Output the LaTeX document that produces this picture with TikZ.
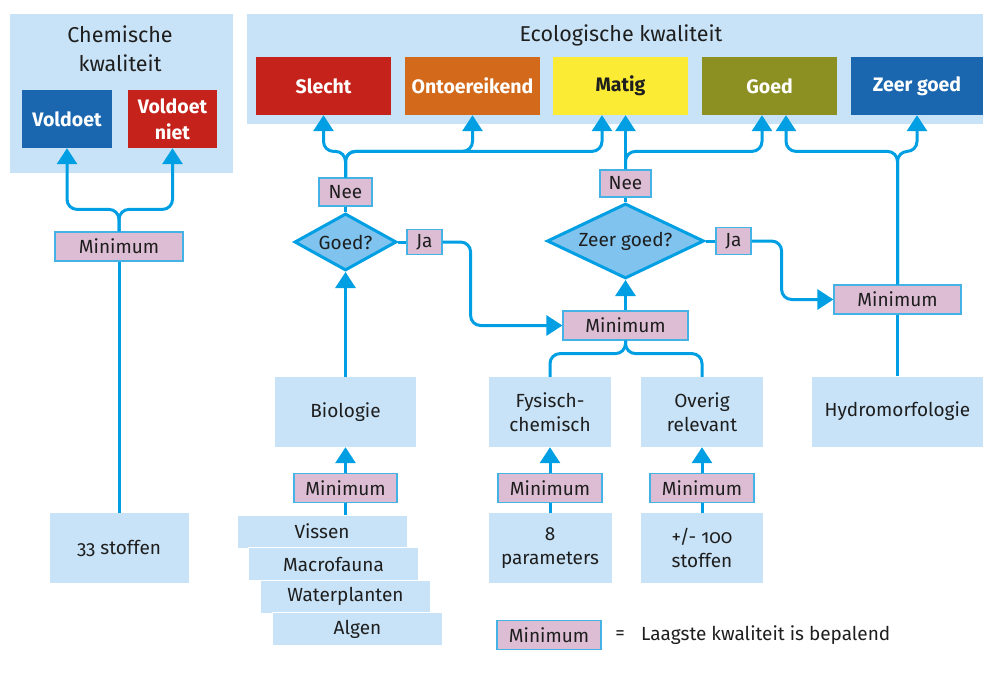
\documentclass[tikz,border=0pt]{standalone}
\usepackage{fontspec}
\setmainfont{Fira Sans}[Numbers=OldStyle]
\usepackage{tikz}
\usetikzlibrary{arrows.meta,shapes.geometric,positioning}

\definecolor{vlakblauw}{HTML}{C8E3F7}
\definecolor{lijnblauw}{HTML}{009FE3}
\definecolor{ruitblauw}{HTML}{7FC3EE}
\definecolor{minroze}{HTML}{DCBDD3}
\definecolor{minrand}{HTML}{45B2E6}
\definecolor{rood}{HTML}{C4221A}
\definecolor{oranje}{HTML}{D2691B}
\definecolor{geel}{HTML}{FCEB34}
\definecolor{olijf}{HTML}{8C9022}
\definecolor{donkerblauw}{HTML}{1A67B0}
\definecolor{tekst}{HTML}{1E1E1E}

\begin{document}
\begin{tikzpicture}[x=1pt,y=-1pt,
    every node/.style={text=tekst, inner sep=0pt, font=\fontsize{19}{24}\selectfont},
    vlak/.style={fill=vlakblauw, align=center, minimum height=70},
    kop/.style={font=\fontsize{21.5}{29}\selectfont, align=center},
    klasse/.style={minimum width=135, minimum height=58, align=center, text=white,
                   font=\bfseries\fontsize{19.5}{26}\selectfont},
    minbox/.style={fill=minroze, draw=minrand, line width=1.2pt, minimum width=104, minimum height=29},
    vraag/.style={diamond, fill=ruitblauw, draw=lijnblauw, line width=3pt},
    soort/.style={fill=vlakblauw, draw=white, line width=1pt, minimum width=170, minimum height=33},
    lijn/.style={color=lijnblauw, line width=3pt, rounded corners=10pt},
    pijl/.style={-{Triangle[width=20pt,length=16pt]}}]

  \useasboundingbox (0,0) rectangle (983,674);

  \node[vlak, minimum width=223, minimum height=159] at (121.5,93.5) (chem) {};
  \node[vlak, minimum width=736, minimum height=110] at (615,69)    (eco)  {};
  \node[kop] at (120,48.6)            (chemkop) {Chemische\\kwaliteit};
  \node[kop, anchor=base] at (621,42) (ecokop)  {Ecologische kwaliteit};

  \node[klasse, fill=donkerblauw, minimum width=90] at (67,119)    (voldoet) {Voldoet};
  \node[klasse, fill=rood, minimum width=89]        at (172.5,119) (niet)    {Voldoet\\niet};

  \node[klasse, fill=rood]                          at (323.5,86) (slecht) {Slecht};
  \node[klasse, fill=oranje]                        at (472.5,86) (ontoer) {Ontoereikend};
  \node[klasse, fill=geel, text=tekst]              at (620.5,86) (matig)  {Matig};
  \node[klasse, fill=olijf]                         at (769.5,86) (goed)   {Goed};
  \node[klasse, fill=donkerblauw, minimum width=132] at (917,86)  (zeer)   {Zeer goed};

  \node[minbox, minimum width=128] at (119,246.5)   (minC) {Minimum};
  \node[vlak, minimum width=139]   at (119,548)     (stof33) {33 stoffen};

  \node[minbox, minimum width=53, minimum height=28] at (345.5,192)   (neeL) {Nee};
  \node[vraag, aspect=1.75, minimum width=102, minimum height=57] at (345.5,242) (goedq) {Goed?};
  \node[minbox, minimum width=35, minimum height=25] at (424.5,242)   (jaL) {Ja};
  \node[vlak, minimum width=141]                     at (345.5,412)   (bio) {Biologie};
  \node[minbox, minimum width=103]                   at (345.5,488)   (minB) {Minimum};
  \node[soort] at (322,531.5)   (vissen) {Vissen};
  \node[soort] at (333.5,564)   (macro)  {Macrofauna};
  \node[soort] at (345.5,596.5) (water)  {Waterplanten};
  \node[soort] at (357.5,629)   (algen)  {Algen};

  \node[minbox, minimum width=51, minimum height=27] at (625.5,183.5) (neeR) {Nee};
  \node[vraag, aspect=2.05, minimum width=157, minimum height=75] at (625.5,241) (zgq) {Zeer goed?};
  \node[minbox, minimum width=35, minimum height=27] at (733.5,241)   (jaR) {Ja};
  \node[minbox, minimum width=125]                   at (625.5,325.5) (minM) {Minimum};
  \node[vlak, minimum width=122] at (550,412) (fys)  {Fysisch-\\chemisch};
  \node[vlak, minimum width=122] at (702,412) (over) {Overig\\relevant};
  \node[minbox] at (550,488) (minF) {Minimum};
  \node[minbox] at (702,488) (minO) {Minimum};
  \node[vlak, minimum width=123] at (550,548) (param) {8\\parameters};
  \node[vlak, minimum width=122] at (702,548) (stof)  {+/- 100\\stoffen};

  \node[minbox, minimum width=127] at (897.5,299.5) (minR)  {Minimum};
  \node[vlak, minimum width=171]   at (897.5,411.5) (hydro) {Hydromorfologie};

  \node[minbox] at (549,635)            (minLeg) {Minimum};
  \node at (620,635)                    (is)     {=};
  \node[anchor=west] at (641,635)       (uitleg) {Laagste kwaliteit is bepalend};

  \draw[lijn,pijl] (minC.north) -- ++(0,-22) -| (voldoet.south);
  \draw[lijn,pijl] (minC.north) -- ++(0,-22) -| (niet.south);
  \path[lijn] (stof33) edge (minC);

  \draw[lijn] (minB.south) -- (minB.south |- vissen.north);
  \path[lijn,pijl] (minB) edge (bio)
                   (bio)  edge (goedq);
  \path[lijn] (goedq) edge (neeL)
              (goedq) edge (jaL);
  \draw[lijn,pijl] (neeL.north) -- ++(0,-26) -| (slecht.south);
  \draw[lijn,pijl] (neeL.north) -- ++(0,-26) -| (ontoer.south);
  \draw[lijn,pijl] (neeL.north) -- ++(0,-26) -| ([xshift=-18.5pt]matig.south);
  \draw[lijn,pijl] (jaL.east) -- ++(28,0) |- (minM.west);

  \path[lijn] (param) edge (minF)
              (stof)  edge (minO);
  \path[lijn,pijl] (minF) edge (fys)
                   (minO) edge (over)
                   (minM) edge (zgq);
  \draw[lijn] (minM.south) -- ++(0,13) -| (fys.north);
  \draw[lijn] (minM.south) -- ++(0,13) -| (over.north);
  \path[lijn] (zgq) edge (neeR)
              (zgq) edge (jaR);
  \draw[lijn,pijl] (neeR.north) -- (neeR.north |- matig.south);
  \draw[lijn,pijl] (neeR.north) -- ++(0,-18) -| ([xshift=-7.5pt]goed.south);
  \draw[lijn,pijl] (jaR.east) -- ++(30,0) |- (minR.west);

  \path[lijn] (hydro) edge (minR);
  \draw[lijn,pijl] (minR.north) -- ++(0,-133) -| ([xshift=16.5pt]goed.south);
  \draw[lijn,pijl] (minR.north) -- ++(0,-133) -| (zeer.south);

\end{tikzpicture}
\end{document}
